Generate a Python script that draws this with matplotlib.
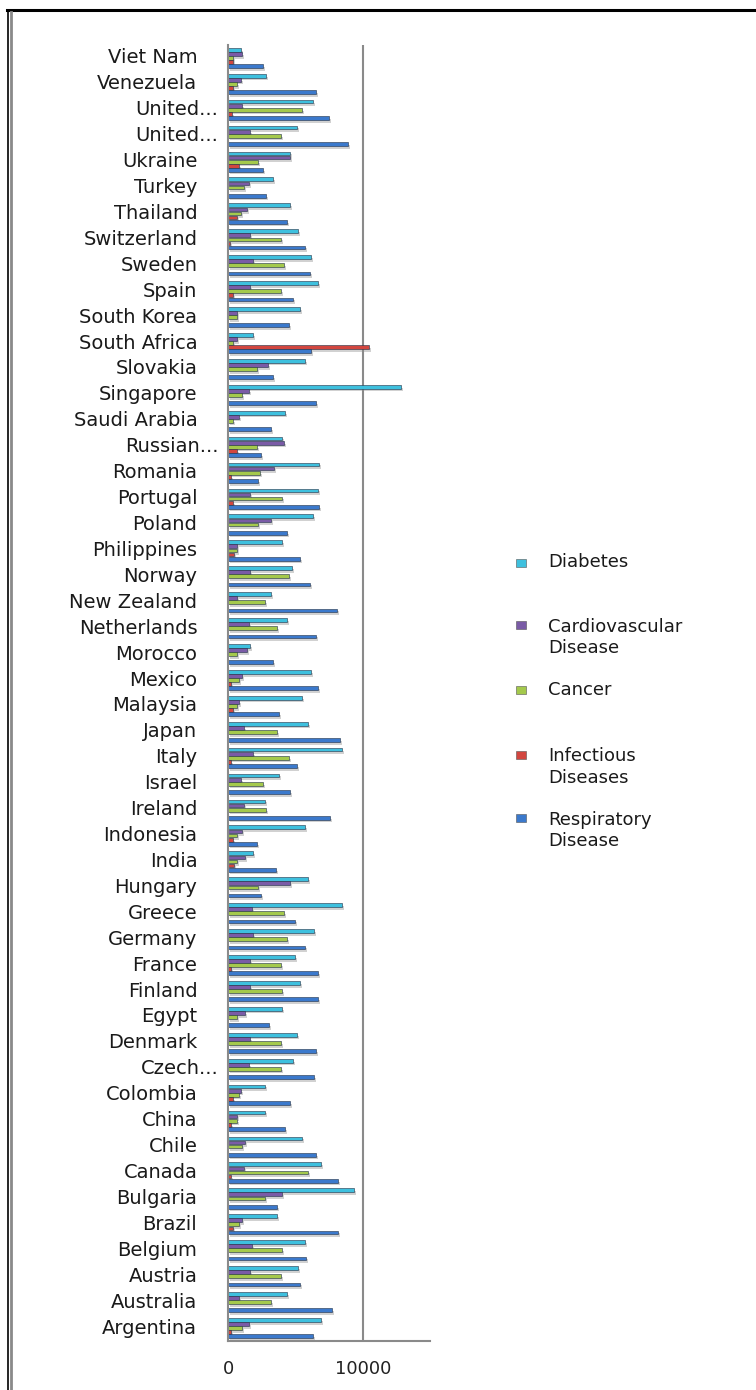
import matplotlib
matplotlib.use("Agg")
import matplotlib.pyplot as plt
import matplotlib.patheffects as pe
import matplotlib.transforms as mtransforms
from matplotlib.lines import Line2D
from matplotlib.patches import Rectangle
import numpy as np

# countries, bottom to top
countries = ["Argentina", "Australia", "Austria", "Belgium", "Brazil", "Bulgaria",
             "Canada", "Chile", "China", "Colombia", "Czech...", "Denmark", "Egypt",
             "Finland", "France", "Germany", "Greece", "Hungary", "India", "Indonesia",
             "Ireland", "Israel", "Italy", "Japan", "Malaysia", "Mexico", "Morocco",
             "Netherlands", "New Zealand", "Norway", "Philippines", "Poland",
             "Portugal", "Romania", "Russian...", "Saudi Arabia", "Singapore",
             "Slovakia", "South Africa", "South Korea", "Spain", "Sweden",
             "Switzerland", "Thailand", "Turkey", "Ukraine", "United...",
             "United...", "Venezuela", "Viet Nam"]

diabetes = [6870, 4340, 5160, 5680, 3600, 9330, 6870, 5460, 2700, 2700, 4790, 5080,
            3970, 5310, 4940, 6350, 8430, 5900, 1810, 5680, 2700, 3750, 8430, 5900,
            5460, 6130, 1590, 4340, 3150, 4710, 3970, 6270, 6650, 6720, 3970, 4190,
            12820, 5680, 1810, 5310, 6650, 6130, 5160, 4560, 3300, 4560, 5080, 6270,
            2780, 920]
cardio = [1510, 770, 1590, 1740, 990, 3970, 1140, 1220, 620, 920, 1510, 1590, 1220,
          1590, 1590, 1810, 1740, 4560, 1220, 990, 1140, 920, 1810, 1140, 770, 990,
          1360, 1510, 620, 1590, 620, 3150, 1590, 3370, 4120, 770, 1510, 2930, 620,
          620, 1590, 1810, 1590, 1360, 1510, 4560, 1590, 990, 920, 1020]
cancer = [990, 3150, 3890, 3970, 770, 2700, 5900, 990, 620, 770, 3890, 3890, 620,
          3970, 3890, 4340, 4120, 2180, 620, 620, 2780, 2550, 4490, 3600, 620, 770,
          620, 3600, 2700, 4490, 620, 2180, 3970, 2330, 2110, 320, 990, 2110, 320,
          620, 3890, 4120, 3890, 920, 1140, 2180, 3890, 5460, 620, 370]
infectious = [170, 0, 0, 0, 320, 0, 170, 0, 170, 320, 0, 0, 0, 0, 170, 0, 0, 0, 400,
              320, 0, 0, 170, 0, 320, 170, 0, 0, 0, 0, 400, 0, 320, 170, 620, 0, 0,
              0, 10440, 0, 320, 0, 120, 620, 0, 770, 0, 300, 320, 370]
respiratory = [6270, 7690, 5310, 5750, 8130, 3600, 8130, 6500, 4190, 4560, 6350,
               6500, 3000, 6650, 6650, 5680, 4940, 2410, 3520, 2110, 7540, 4560, 5080,
               8280, 3750, 6650, 3300, 6500, 8060, 6050, 5310, 4340, 6720, 2180, 2410,
               3150, 6500, 3300, 6130, 4490, 4790, 6050, 5680, 4340, 2780, 2580, 8880,
               7470, 6500, 2580]

series = ["Diabetes", "Cardiovascular\nDisease", "Cancer", "Infectious\nDiseases",
          "Respiratory\nDisease"]
colors = ["#3ec0de", "#7a5ba6", "#a4c94c", "#d2463f", "#3b79cc"]
values = [diabetes, cardio, cancer, infectious, respiratory]

W, H = 756, 1390
fig = plt.figure(figsize=(W / 100, H / 100), dpi=100)
ax = fig.add_axes([228.3 / W, 1 - 1341 / H, (430 - 228.3) / W, (1341 - 45) / H])

y = np.arange(len(countries))
step = 0.158
shadow = [pe.SimplePatchShadow(offset=(1.5, -2), shadow_rgbFace="0.55", alpha=0.4),
          pe.Normal()]
for i, (vals, col) in enumerate(zip(values, colors)):
    # first series sits on top of each group
    off = (2 - i) * step
    bars = ax.barh(y + off, vals, height=0.145, color=col,
                   edgecolor="#1f2f45", linewidth=0.4)
    for b in bars:
        b.set_path_effects(shadow)

ax.set_xlim(0, 15000)
ax.set_ylim(-0.5, len(countries) - 0.5)
ax.set_xticks([0, 10000])
ax.set_xticklabels(["0", "10000"], fontsize=13)
ax.tick_params(axis="x", length=0, pad=14, colors="#222222")
ax.set_yticks([])
ax.axvline(10000, color="#8a8a8a", lw=1.5, zorder=0)
for s in ["top", "right"]:
    ax.spines[s].set_visible(False)
for s in ["left", "bottom"]:
    ax.spines[s].set_color("#8a8a8a")
    ax.spines[s].set_linewidth(1.5)

# category labels, right aligned beside the axis
base = mtransforms.blended_transform_factory(ax.transAxes, ax.transData)
for yi, name in zip(y, countries):
    dx = -10 if name.endswith("...") else -31
    tr = mtransforms.offset_copy(base, fig=fig, x=dx, units="dots")
    ax.text(0, yi, name, transform=tr, ha="right", va="center", fontsize=14,
            color="#1a1a1a")

# legend
leg_y = [562, 637.5, 690, 767, 830.5]
mark_y = [563, 625, 690, 755, 818]
for name, col, ty, my in zip(series, colors, leg_y, mark_y):
    fig.patches.append(Rectangle((516 / W, 1 - (my + 4) / H), 10 / W, 8 / H,
                                 transform=fig.transFigure, facecolor=col,
                                 edgecolor="#555555", linewidth=0.4))
    fig.text(548 / W, 1 - ty / H, name, fontsize=13, va="center", ha="left",
             color="#1a1a1a", linespacing=1.25)

# outer frame lines
fig.add_artist(Line2D([7 / W, 1], [1 - 10 / H, 1 - 10 / H], color="black", lw=2.2))
fig.add_artist(Line2D([8 / W, 8 / W], [0, 1 - 10 / H], color="black", lw=1.2))
fig.add_artist(Line2D([11 / W, 11 / W], [0, 1 - 12 / H], color="#8a8a8a", lw=2.0))

fig.savefig("out.png", dpi=100)
